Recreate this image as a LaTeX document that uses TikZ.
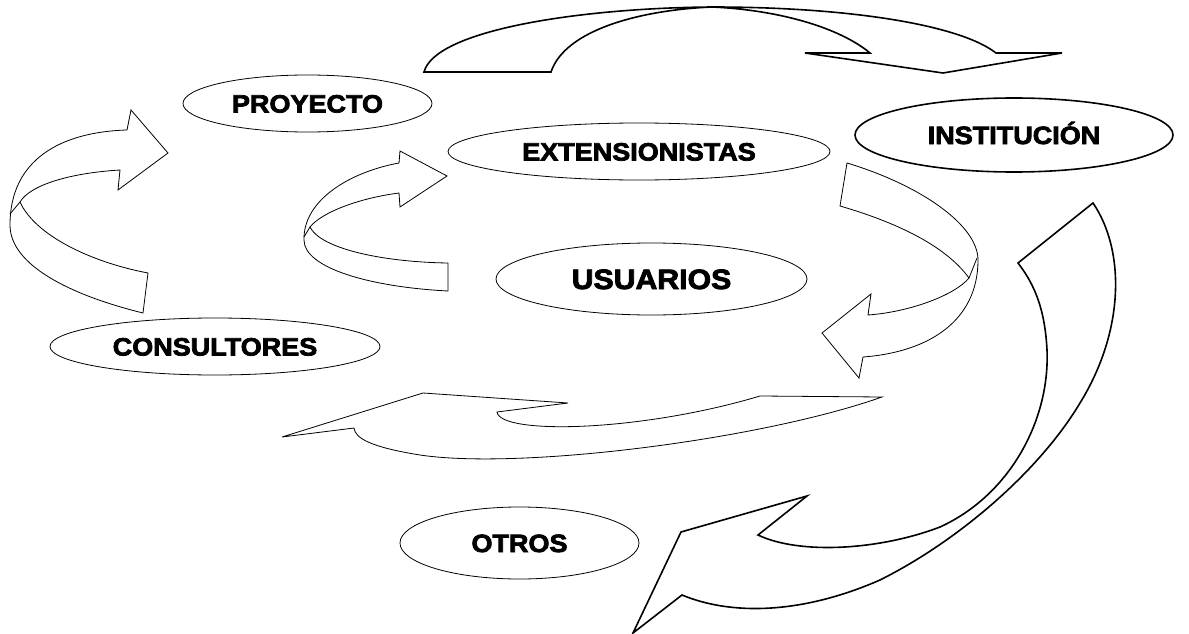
\documentclass[tikz,border=0pt]{standalone}
\usepackage{fontspec}
\newfontfamily\blackfont{Liberation Sans}[FakeStretch=1.08,FakeBold=3]
\usetikzlibrary{shapes.geometric,positioning}

\begin{document}
\begin{tikzpicture}[x=1pt, y=-1pt, actor/.style={ellipse, draw, line width=0.8pt, inner sep=0pt, text height=18pt, text depth=0pt, font=\blackfont\bfseries\fontsize{25}{25}\selectfont}, mainactor/.style={actor, line width=1.6pt}, band/.style={draw, line width=0.8pt, line join=miter}, heavyband/.style={band, line width=1.6pt}]
    \useasboundingbox (0,0) rectangle (1189,634);

    \node[actor, minimum width=249pt, minimum height=57pt] (proyecto) at (307.5,103.5) {PROYECTO};
    \node[actor, minimum width=330pt, minimum height=57pt] (consultores) at (215,346.5) {CONSULTORES};
    \node[actor, minimum width=382pt, minimum height=57pt] (extension) at (639,151.5) {EXTENSIONISTAS};
    \node[mainactor, minimum width=318pt, minimum height=74pt] (institucion) at (1014,135) {INSTITUCIÓN};
    \node[actor, minimum width=311pt, minimum height=72pt, text height=20pt] (usuarios) at (651.5,279) {\fontsize{28}{28}\selectfont USUARIOS};
    \node[actor, minimum width=239pt, minimum height=72pt] (otros) at (519.5,543) {OTROS};

    % consultores -> proyecto
    \draw[band] (148,273) -- (143,313)
        .. controls (70,295) and (10,265) .. (10,225)
        .. controls (10,160) and (60,132) .. (127,130)
        -- (131,110) -- (168,153) -- (118,190) -- (120,170)
        .. controls (70,173) and (30,185) .. (20,202)
        .. controls (35,235) and (90,262) .. (148,273) -- cycle;
    \draw[band] (20,202) -- (10,214);

    % usuarios -> extensionistas
    \draw[band] (448,263) -- (448,291)
        .. controls (370,287) and (304,268) .. (304,240)
        .. controls (303,200) and (350,172) .. (399,163)
        -- (400,151) -- (447,176) -- (400,207) -- (399,193)
        .. controls (360,198) and (322,212) .. (310,227)
        .. controls (320,248) and (380,262) .. (448,263) -- cycle;
    \draw[band] (310,227) -- (304,237);

    % extensionistas -> usuarios
    \draw[band] (847,163) .. controls (920,185) and (978,225) .. (978,260)
        .. controls (978,320) and (930,352) .. (863,357)
        -- (859,378) -- (822,333) -- (871,294) -- (868,315)
        .. controls (910,312) and (955,295) .. (969,278)
        .. controls (945,245) and (895,222) .. (840,206) -- cycle;
    \draw[band] (969,278) -- (977,258);

    % proyecto -> institucion
    \draw[heavyband] (424,72) -- (551,72)
        .. controls (565,30) and (640,10) .. (712,7)
        .. controls (850,7) and (960,25) .. (996,53)
        -- (1062,53) -- (943,73) -- (805,53) -- (870,53)
        .. controls (840,28) and (780,10) .. (712,7)
        .. controls (580,8) and (435,30) .. (424,72) -- cycle;

    % lower return arrow
    \draw[band] (282,437) -- (423,393) -- (568,403) -- (497,412)
        .. controls (500,435) and (640,432) .. (760,396)
        -- (882,397)
        .. controls (760,440) and (520,470) .. (420,455)
        .. controls (370,447) and (355,438) .. (354,428) -- cycle;

    % institucion -> otros
    \draw[heavyband] (1093,203) .. controls (1125,250) and (1125,330) .. (1080,403)
        .. controls (1040,470) and (960,540) .. (880,580)
        .. controls (800,615) and (730,615) .. (682,595)
        -- (633,633) -- (681,532) -- (807,496) -- (758,535)
        .. controls (800,555) and (880,550) .. (940,527)
        .. controls (1010,495) and (1050,420) .. (1047,350)
        .. controls (1045,310) and (1035,285) .. (1018,263) -- cycle;
\end{tikzpicture}
\end{document}
